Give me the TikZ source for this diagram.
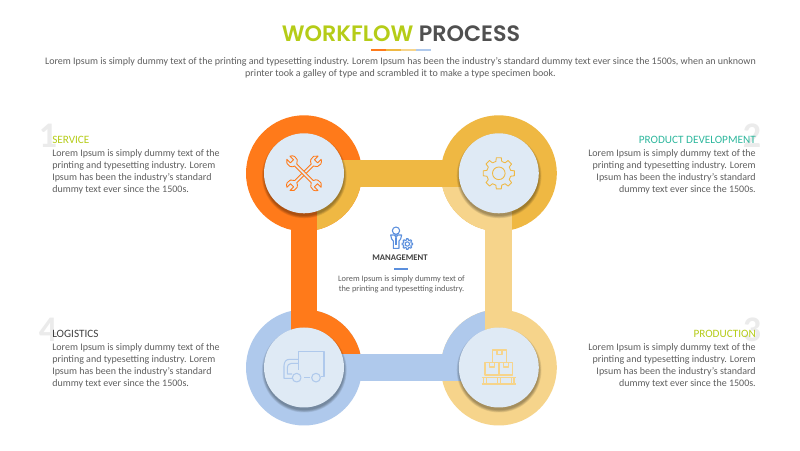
\documentclass[tikz,border=0pt]{standalone}
\usepackage{fontspec}
\setmainfont{Carlito}
\newfontfamily\titlefont{Poppins SemiBold}
\usetikzlibrary{calc}
\definecolor{cOrange}{HTML}{FF7A1A}
\definecolor{cYellow}{HTML}{EFB843}
\definecolor{cTan}{HTML}{F6D48B}
\definecolor{cBlue}{HTML}{AFC9EC}
\definecolor{cInner}{HTML}{DFEAF5}
\definecolor{cLime}{HTML}{B5CC18}
\definecolor{cTeal}{HTML}{2FB89E}
\definecolor{cText}{HTML}{5F5F5F}
\definecolor{cDark}{HTML}{404040}
\definecolor{cTitle}{HTML}{505050}
\definecolor{cNum}{HTML}{EBEBEB}
\definecolor{cIcon}{HTML}{5B8FDD}
\tikzset{
  ring/.style={circle,minimum size=87pt,inner sep=0pt,draw=none},
  hub/.style={circle,minimum size=60pt,inner sep=0pt,fill=cInner},
  bar/.style={line width=20pt},
  bodyL/.style={anchor=north west,align=left,text=cText,inner sep=0pt,font=\fontsize{7.5}{9}\selectfont},
  bodyR/.style={anchor=north east,align=right,text=cText,inner sep=0pt,font=\fontsize{7.5}{9}\selectfont},
  headL/.style={anchor=base west,inner sep=0pt,font=\fontsize{8.4}{10}\selectfont},
  headR/.style={anchor=base east,inner sep=0pt,font=\fontsize{8.4}{10}\selectfont},
  bignum/.style={anchor=base,inner sep=0pt,text=cNum,font=\fontsize{27}{27}\selectfont\bfseries},
  seg/.style={line width=1.6pt},
  icon/.style={line width=0.65pt,line join=round},
  wrench/.pic={
    \draw[icon,fill=cInner] (1.5,-11.71) -- (1.5,11.71)
      arc[start angle=-74.2,end angle=66.4,radius=5.5]
      -- (2.2,17) -- (-2.2,17) -- (-2.2,22.04)
      arc[start angle=113.6,end angle=254.2,radius=5.5]
      -- (-1.5,-11.71)
      arc[start angle=105.8,end angle=246.4,radius=5.5]
      -- (-2.2,-17) -- (2.2,-17) -- (2.2,-22.04)
      arc[start angle=-66.4,end angle=74.2,radius=5.5]
      -- cycle;
  },
}
\newcommand{\hubshadow}[1]{%
  \foreach \r in {42.4,41.8,41.2,40.6,40}
    \fill[black,opacity=.075] ($(#1)+(0.3,-2.6)$) circle[radius=\r];
}
\begin{document}
\begin{tikzpicture}[x=.75pt,y=.75pt]
\useasboundingbox (0,0) rectangle (800,450);
\fill[white] (0,0) rectangle (800,450);

% rings
\coordinate (c1) at (304,276.7);
\coordinate (c2) at (498.8,276.7);
\coordinate (c3) at (498.8,82.5);
\coordinate (c4) at (304,82.5);
\node[ring,fill=cOrange] (r1) at (c1) {};
\node[ring,fill=cYellow] (r2) at (c2) {};
\node[ring,fill=cTan] (r3) at (c3) {};
\node[ring,fill=cBlue] (r4) at (c4) {};

% quadrants
\begin{scope}\clip (c1) circle[radius=58];
  \fill[cYellow] (317.3,290) rectangle (380,200);
\end{scope}
\begin{scope}\clip (c2) circle[radius=58];
  \fill[cTan] (430,263.3) rectangle (512,200);
\end{scope}
\begin{scope}\clip (c3) circle[radius=58];
  \fill[cBlue] (430,70) rectangle (485.7,150);
\end{scope}
\begin{scope}\clip (c4) circle[radius=58];
  \fill[cOrange] (290.7,96) rectangle (380,150);
\end{scope}

% connecting bands
\draw[bar,cYellow] (c1) -- (c2);
\draw[bar,cTan] (c2) -- (c3);
\draw[bar,cBlue] (c3) -- (c4);
\draw[bar,cOrange] (c4) -- (c1);

% hubs
\hubshadow{c1}\hubshadow{c2}\hubshadow{c3}\hubshadow{c4}
\node[hub] (h1) at (c1) {};
\node[hub] (h2) at (c2) {};
\node[hub] (h3) at (c3) {};
\node[hub] (h4) at (c4) {};

% wrenches
\begin{scope}[cOrange]
  \pic[rotate=-45,draw=cOrange] at (c1) {wrench};
  \pic[rotate=45,draw=cOrange] at (c1) {wrench};
\end{scope}

% gear
\begin{scope}[shift={(c2)},cYellow]
  \draw[icon] (-14:12.2) foreach \a in {0,45,...,315} {
      -- (\a-14:12.2) -- (\a-9:15.8) -- (\a+9:15.8) -- (\a+14:12.2)} -- cycle;
  \draw[icon] (0,0) circle[radius=6.3];
\end{scope}

% truck
\begin{scope}[shift={(230,180)},x=.25pt,y=-.25pt,cBlue,line width=.8pt,line join=round]
  \draw (205,300) -- (205,245) -- (282,245) -- (282,320) -- (272,320);
  \draw (205,268) -- (178,268) .. controls (168,268) and (162,276) .. (162,288) -- (162,325) -- (186,325);
  \draw (205,280) -- (184,280) .. controls (176,280) and (172,286) .. (172,296) -- (172,312) -- (186,312);
  \draw (200,323) circle[radius=13];
  \draw (258,323) circle[radius=13];
  \draw (223,323) -- (241,323);
\end{scope}

% boxes
\begin{scope}[shift={(400,180)},x=.25pt,y=-.25pt,cTan,line width=.8pt,line join=round]
  \draw (277,240) rectangle (320,277);
  \draw (291,240) -- (291,254) -- (306,254) -- (306,240);
  \draw (255,277) rectangle (297,315);
  \draw (268,277) -- (268,291) -- (283,291) -- (283,277);
  \draw (297,277) rectangle (338,315);
  \draw (310,277) -- (310,291) -- (325,291) -- (325,277);
  \draw (245,323) -- (347,323);
  \draw (245,342) -- (347,342);
  \foreach \x in {255,297,338}{\draw (\x-4,323) -- (\x-4,342); \draw (\x+4,323) -- (\x+4,342);}
\end{scope}

% manager
\begin{scope}[shift={(330,235)},x=.25pt,y=-.25pt,cIcon,line width=.8pt,line join=round]
  \draw (198,47) circle[radius=11];
  \draw (182,60) -- (215,60) -- (212,72) -- (207,78) -- (207,100) -- (190,100) -- (190,78) -- (185,72) -- cycle;
  \draw (194,60) -- (198,68) -- (203,60);
  \draw (198,68) -- (198,90);
  \begin{scope}[shift={(232,87)}]
    \draw (-14:12) foreach \a in {0,45,...,315} {
      -- (\a-14:12) -- (\a-9:16) -- (\a+9:16) -- (\a+14:12)} -- cycle;
    \draw (0,0) circle[radius=6.5];
  \end{scope}
\end{scope}
\node[anchor=base,inner sep=0pt,text=cDark,font=\fontsize{6.5}{8}\selectfont\bfseries] (mgmt) at (400,189.5) {MANAGEMENT};
\coordinate (ma) at (394,181);
\coordinate (mb) at (408,181);
\draw[line width=1.5pt,cIcon] (ma) -- (mb);
\node[anchor=north,align=center,inner sep=0pt,text=cText,font=\fontsize{6.26}{7.5}\selectfont] (mtext) at (401.5,175)
  {Lorem Ipsum is simply dummy text of\\the printing and typesetting industry.};

% title
\node[anchor=base,inner sep=0pt,font=\fontsize{16.7}{20}\titlefont] (title) at (401,408)
  {\textcolor{cLime}{WORKFLOW} \textcolor{cTitle}{PROCESS}};
\coordinate (s0) at (371,400);
\coordinate (s1) at (386,400);
\coordinate (s2) at (401,400);
\coordinate (s3) at (416,400);
\coordinate (s4) at (431,400);
\draw[seg,cOrange] (s0) -- (s1);
\draw[seg,cYellow] (s1) -- (s2);
\draw[seg,cTan] (s2) -- (s3);
\draw[seg,cBlue] (s3) -- (s4);
\node[anchor=north,align=center,inner sep=0pt,text=cText,font=\fontsize{7.5}{9}\selectfont] (intro) at (400.5,393)
  {Lorem Ipsum is simply dummy text of the printing and typesetting industry. Lorem Ipsum has been the industry's standard dummy text ever since the 1500s, when an unknown\\printer took a galley of type and scrambled it to make a type specimen book.};

% numbers
\node[bignum] (n1) at (48,302) {1};
\node[bignum] (n2) at (752,302) {2};
\node[bignum] (n3) at (752,108) {3};
\node[bignum] (n4) at (48,108) {4};

% side text
\node[headL,text=cLime] (t1) at (52,306) {SERVICE};
\node[bodyL] (b1) at (52,301) {Lorem Ipsum is simply dummy text of the\\printing and typesetting industry. Lorem\\Ipsum has been the industry's standard\\dummy text ever since the 1500s.};
\node[headR,text=cTeal] (t2) at (756,306) {PRODUCT DEVELOPMENT};
\node[bodyR] (b2) at (756,301) {Lorem Ipsum is simply dummy text of the\\printing and typesetting industry. Lorem\\Ipsum has been the industry's standard\\dummy text ever since the 1500s.};
\node[headR,text=cLime] (t3) at (756,112) {PRODUCTION};
\node[bodyR] (b3) at (756,107) {Lorem Ipsum is simply dummy text of the\\printing and typesetting industry. Lorem\\Ipsum has been the industry's standard\\dummy text ever since the 1500s.};
\node[headL,text=cDark] (t4) at (52,112) {LOGISTICS};
\node[bodyL] (b4) at (52,107) {Lorem Ipsum is simply dummy text of the\\printing and typesetting industry. Lorem\\Ipsum has been the industry's standard\\dummy text ever since the 1500s.};
\end{tikzpicture}
\end{document}
